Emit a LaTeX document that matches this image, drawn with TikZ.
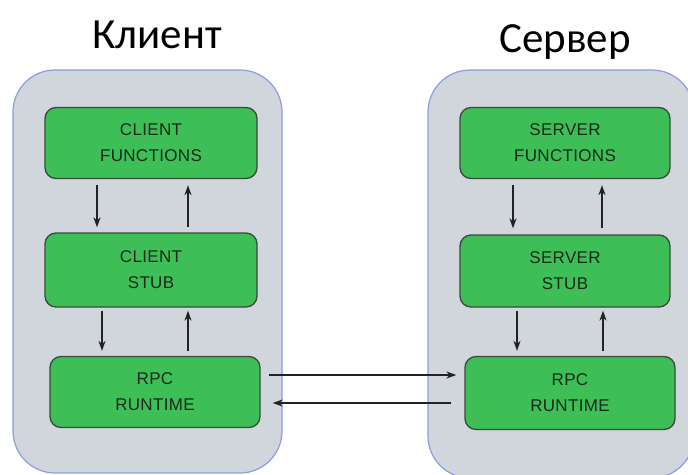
\documentclass[tikz,border=0pt]{standalone}
\usepackage{fontspec}
\setmainfont{Carlito}
\newfontfamily\boxfont{Liberation Sans}
\usetikzlibrary{arrows.meta}
\definecolor{panelfill}{HTML}{D1D5DC}
\definecolor{paneldraw}{HTML}{8C9BE2}
\definecolor{boxfill}{HTML}{3EBE57}
\definecolor{boxdraw}{HTML}{3A4A3A}
\definecolor{arrowcol}{HTML}{222222}
\definecolor{labelcol}{HTML}{1A2A1A}
\tikzset{
  panel/.style={fill=panelfill, draw=paneldraw, line width=1.2pt, rounded corners=42pt},
  stage/.style={fill=boxfill, draw=boxdraw, line width=1.3pt, rounded corners=11pt,
    align=center, inner sep=0pt, text=labelcol,
    font=\boxfont\fontsize{17}{26}\selectfont\addfontfeature{LetterSpace=2}},
  flow/.style={draw=arrowcol, line width=1.6pt, -{Stealth[length=10pt,width=7pt]}},
  title/.style={font=\fontsize{43}{50}\selectfont, text=black, anchor=base}
}
\begin{document}
\begin{tikzpicture}[x=1pt,y=-1pt]
  \useasboundingbox (0,0) rectangle (688,474);
  \begin{scope}
    \clip (0,0) rectangle (688,474);
    % client and server panels
    \draw[panel] (13,70) rectangle (282,473);
    \draw[panel] (428,70) rectangle (694,478);
  \end{scope}
  \node[title] (tc) at (157,48) {Клиент};
  \node[title] (ts) at (565,52) {Сервер};

  % client side stages
  \node[stage, minimum width=212pt, minimum height=71pt] (cf) at (151,143) {CLIENT\\FUNCTIONS};
  \node[stage, minimum width=212pt, minimum height=74pt] (cs) at (151,270) {CLIENT\\STUB};
  \node[stage, minimum width=210pt, minimum height=71pt] (cr) at (155,392) {RPC\\RUNTIME};

  % server side stages
  \node[stage, minimum width=210pt, minimum height=71pt] (sf) at (565,143) {SERVER\\FUNCTIONS};
  \node[stage, minimum width=210pt, minimum height=72pt] (ss) at (565,271) {SERVER\\STUB};
  \node[stage, minimum width=210pt, minimum height=73pt] (sr) at (570,393) {RPC\\RUNTIME};

  % client call path
  \draw[flow] ([xshift=-54pt,yshift=-6pt]cf.south) -- ([xshift=-54pt,yshift=5pt]cs.north);
  \draw[flow] ([xshift=37pt,yshift=5pt]cs.north) -- ([xshift=37pt,yshift=-6pt]cf.south);
  \draw[flow] ([xshift=-49pt,yshift=-3pt]cs.south) -- ([xshift=-53pt,yshift=5pt]cr.north);
  \draw[flow] ([xshift=33pt,yshift=5pt]cr.north) -- ([xshift=37pt,yshift=-3pt]cs.south);

  % server call path
  \draw[flow] ([xshift=-52pt,yshift=-6pt]sf.south) -- ([xshift=-52pt,yshift=6pt]ss.north);
  \draw[flow] ([xshift=37pt,yshift=6pt]ss.north) -- ([xshift=37pt,yshift=-6pt]sf.south);
  \draw[flow] ([xshift=-48pt,yshift=-3pt]ss.south) -- ([xshift=-53pt,yshift=5pt]sr.north);
  \draw[flow] ([xshift=33pt,yshift=5pt]sr.north) -- ([xshift=38pt,yshift=-3pt]ss.south);

  % network messages between runtimes
  \draw[flow] ([xshift=8pt,yshift=17pt]cr.east) -- ([xshift=-8pt,yshift=18pt]sr.west);
  \draw[flow] ([xshift=-13pt,yshift=-10pt]sr.west) -- ([xshift=12pt,yshift=-11pt]cr.east);
\end{tikzpicture}
\end{document}
